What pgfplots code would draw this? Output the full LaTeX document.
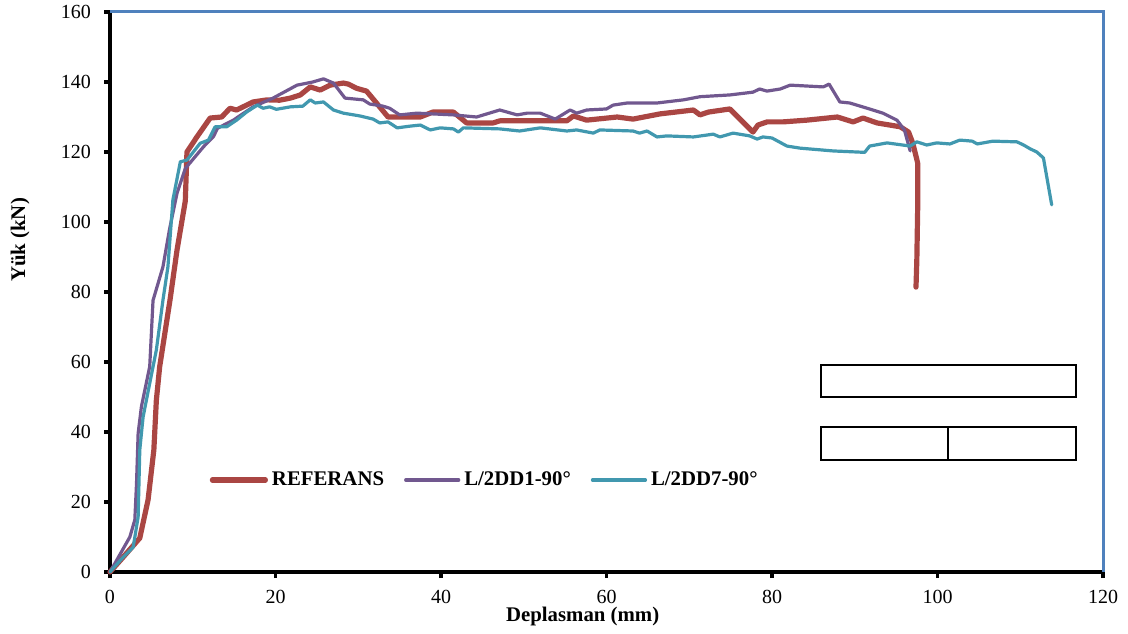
\documentclass[border=0pt]{standalone}
\usepackage{pgfplots}
\pgfplotsset{compat=1.18}
\usepackage{fontspec}
\setmainfont{Liberation Serif}
\definecolor{cRed}{HTML}{AA4643}
\definecolor{cPur}{HTML}{71588F}
\definecolor{cTeal}{HTML}{4198AF}
\definecolor{cBlue}{HTML}{4F81BD}
\begin{document}
\begin{tikzpicture}
\begin{axis}[name=ax,
  scale only axis, width=496.5pt, height=280pt,
  xmin=0, xmax=120, ymin=0, ymax=160,
  xtick={0,20,...,120}, ytick={0,20,...,160},
  axis x line*=bottom, axis y line*=left,
  axis line style={black, line width=2pt, -},
  tick align=outside, major tick length=3pt,
  every tick/.style={black, line width=1.6pt},
  /pgf/number format/assume math mode=true,
  tick label style={font=\fontsize{10}{12}\selectfont, black},
  xticklabel style={yshift=-2.5pt},
  yticklabel style={xshift=-3pt},
  xlabel={\textbf{Deplasman (mm)}}, ylabel={\textbf{Yük (kN)}},
  label style={font=\fontsize{10.4}{12}\selectfont},
  xlabel style={at={(axis description cs:0.476,-0.0786)}, anchor=center},
  ylabel style={at={(axis description cs:-0.0906,0.593)}, anchor=center},
  clip=false,
  legend columns=3,
  legend style={draw=none, fill=none, at={(axis cs:45.4,26.3)}, anchor=center,
    font=\fontsize{10.4}{12}\selectfont\bfseries,
    /tikz/every even column/.append style={column sep=8pt}},
  legend image code/.code={\draw[#1] (0pt,0pt) -- (26.5pt,0pt);},
]
\draw[cBlue, line width=1.5pt] (rel axis cs:0,1) -- (rel axis cs:1,1) -- (rel axis cs:1,0);
\addplot[cRed, line width=2.6pt, line cap=round, line join=round] coordinates {
(0,0) (1.5,4) (3.6,9.7) (4.6,20.6) (5.3,34.9) (5.6,49) (6.0,58.6) (7.25,77.7) (8.1,92) (9.1,106) (9.3,120) (10.5,124.3) (12.1,129.7) (13.5,130) (14.5,132.5) (15.3,132) (17.3,134.3) (19,134.9) (20.5,134.8) (21.8,135.4) (23,136.3) (24.2,138.6) (25.4,137.7) (26.6,139.1) (28.2,139.7) (28.8,139.4) (29.8,138.2) (31,137.4) (32.2,134) (33.6,130) (37.5,130) (39,131.4) (41.5,131.4) (43.1,128.3) (46.3,128.3) (47.1,128.9) (55.2,128.9) (56,130.3) (57.6,129.1) (61.3,130) (63.2,129.4) (66.5,130.9) (70.5,132) (71.3,130.6) (72.3,131.4) (74.9,132.3) (77.7,125.7) (78.3,127.7) (79.4,128.6) (81.3,128.6) (84.2,129.1) (87.9,130) (89.8,128.6) (91,129.7) (92.7,128.3) (95.5,127.2) (96.5,125.7) (97.0,122.6) (97.6,116.9) (97.6,103.4) (97.5,89) (97.4,81.4)
};
\addlegendentry{REFERANS}
\addplot[cPur, line width=1.6pt, line cap=round, line join=round] coordinates {
(0,0) (1.2,5) (2.4,10) (3.0,14.9) (3.2,25) (3.4,39.6) (3.8,47.3) (4.8,58.7) (5.0,68.2) (5.2,77.6) (6.4,87.2) (7.2,98) (8.1,108.2) (9.1,115.3) (11.3,121.5) (12.5,124.4) (13.0,126.8) (14.9,129.1) (17.3,132.9) (19.7,135.4) (22.6,139.1) (24.5,140) (25.8,140.9) (27,139.7) (28.4,135.4) (30.6,134.9) (31.4,133.7) (33,133.1) (33.8,132.5) (35,130.6) (37.1,131.1) (41.5,130.6) (44.3,130) (47.1,132) (49.2,130.6) (50.4,131.1) (52,131.1) (53.8,129.4) (55.6,132) (56.4,131.1) (57.6,132) (60,132.3) (60.8,133.4) (62.5,134) (66.1,134) (69.3,134.9) (71.3,135.8) (74.9,136.3) (77.7,137.1) (78.5,138) (79.4,137.4) (81,138) (82.2,139.1) (86.2,138.6) (86.9,139.4) (88.2,134.3) (89.4,134) (91.5,132.5) (93.4,131.1) (95.1,129.1) (96.0,126.3) (96.7,120.3)
};
\addlegendentry{L/2DD1-90°}
\addplot[cTeal, line width=1.6pt, line cap=round, line join=round] coordinates {
(0,0) (1.5,4) (2.8,7.1) (3.4,15.7) (3.6,34.9) (4.0,44.3) (4.8,53.9) (5.6,63.4) (6.4,77.7) (7.0,87.2) (7.6,106.3) (8.5,117.2) (9.3,117.7) (10.9,122.5) (11.9,123.4) (12.7,127.2) (14.1,127.2) (15.3,129.1) (16.5,131.4) (17.8,133.4) (18.5,132.5) (19.3,132.9) (20.1,132.2) (21.8,132.9) (23.3,133.1) (24.2,134.9) (24.8,134) (25.8,134.3) (27,132) (28.2,131.1) (30.2,130.3) (31.8,129.4) (32.6,128.3) (33.6,128.6) (34.7,126.9) (36.3,127.4) (37.5,127.7) (38.7,126.3) (39.9,126.9) (41.5,126.6) (42.1,125.7) (42.7,126.9) (47.1,126.6) (49.5,126) (52,126.9) (55.2,126) (56.4,126.3) (58.4,125.4) (59.2,126.3) (63.2,126) (64,125.4) (64.9,126) (66.1,124.3) (67.3,124.6) (70.5,124.3) (72.9,125.1) (73.7,124.3) (75.3,125.4) (77.3,124.6) (78.2,123.7) (78.9,124.3) (80,124) (81.8,121.7) (83.4,121.1) (87.4,120.3) (91.2,119.9) (91.8,121.7) (93.9,122.6) (96.7,121.7) (97.5,122.9) (98.7,122) (99.9,122.6) (101.5,122.3) (102.7,123.4) (104.2,123.1) (104.8,122.3) (106.7,123.1) (109.6,122.9) (110.4,122) (111.2,120.9) (112,120) (112.8,118.3) (113.8,104.9)
};
\addlegendentry{L/2DD7-90°}
\draw[black, line width=1.2pt] (axis cs:85.9,50.0) rectangle (axis cs:116.7,59.1);
\draw[black, line width=1.2pt] (axis cs:85.9,32.0) rectangle (axis cs:116.7,41.4);
\draw[black, line width=1.2pt] (axis cs:101.3,32.0) -- (axis cs:101.3,41.4);
\end{axis}
\pgfresetboundingbox
\path ([shift={(-55pt,-30.5pt)}]ax.south west) rectangle ([shift={(12.5pt,6pt)}]ax.north east);
\end{tikzpicture}
\end{document}
